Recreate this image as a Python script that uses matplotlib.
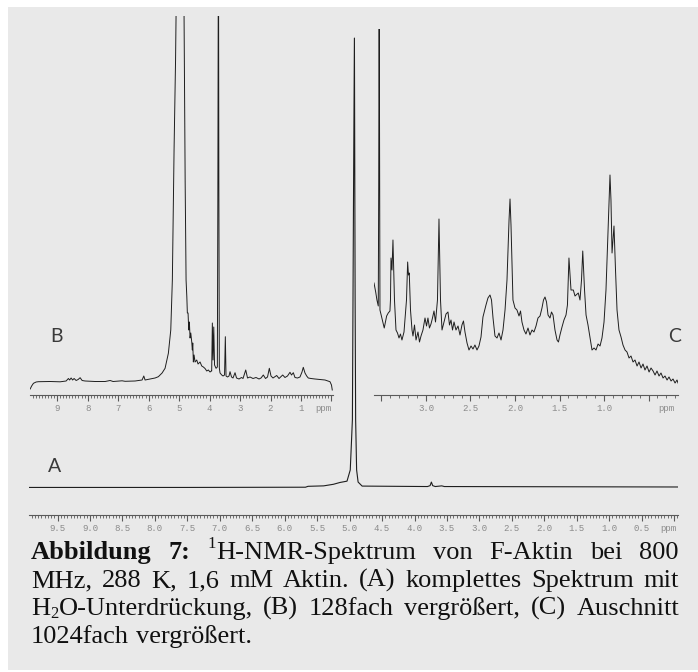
import re
import matplotlib
matplotlib.use("Agg")
import matplotlib.pyplot as plt
from matplotlib.patches import Rectangle
from matplotlib.ticker import FixedLocator, MultipleLocator

W, H = 698, 672

# --- A: full spectrum (intensity in % of the water signal) ---
a_ppm = [9.94, 7.5, 5.68, 5.64, 5.40, 5.25, 5.15, 5.04, 4.99, 4.97, 4.957, 4.94,
         4.926, 4.915, 4.907, 4.892, 4.869, 4.807, 3.80, 3.76, 3.74, 3.72, 3.68,
         3.58, 3.54, -0.06]
a_int = [-0.1, -0.1, -0.05, 0.15, 0.25, 0.6, 1.0, 1.3, 3.8, 10.5, 15, 64,
         100, 42, 15, 3.8, 1.1, 0.2, 0.1, 0.3, 1.1, 0.3, 0.1,
         0.25, 0.1, 0.0]

# --- B: 128x, whole range ---
b_ppm = [9.885, 9.836, 9.777, 9.689, 9.613, 9.230, 8.902, 8.705, 8.630, 8.590,
         8.541, 8.492, 8.443, 8.377, 8.311, 8.246, 8.180, 8.082, 7.754, 7.426,
         7.262, 7.164, 6.869, 6.770, 6.443, 6.213, 6.157, 6.115, 5.951, 5.787,
         5.679, 5.557, 5.459, 5.351, 5.272, 5.239, 5.220, 5.164, 5.115, 5.098,
         5.08, 4.97, 4.84, 4.836, 4.80, 4.77, 4.745, 4.728, 4.705, 4.682,
         4.662, 4.639, 4.616, 4.584, 4.564, 4.551, 4.531, 4.508, 4.475, 4.420,
         4.377, 4.311, 4.256, 4.203, 4.148, 4.092, 4.039, 3.984, 3.941, 3.930,
         3.908, 3.885, 3.862, 3.836, 3.787, 3.744, 3.728, 3.708, 3.695, 3.679,
         3.656, 3.600, 3.557, 3.508, 3.482, 3.459, 3.410, 3.361, 3.328, 3.279,
         3.230, 3.164, 3.115, 3.033, 2.951, 2.902, 2.813, 2.754, 2.672, 2.574,
         2.475, 2.377, 2.311, 2.236, 2.164, 2.098, 2.039, 1.984, 1.918, 1.797,
         1.721, 1.600, 1.525, 1.443, 1.361, 1.311, 1.252, 1.197, 1.115, 1.033,
         0.967, 0.925, 0.869, 0.813, 0.761, 0.672, 0.541, 0.377, 0.213, 0.049,
         0.000, -0.026]
b_int = [-7, -4, -1.3, 0, 0.3, 0.5, 0.2, 1, 3.5, 2,
         4, 2, 3.5, 1.5, 2.5, 4.3, 1.5, 1, 0.5, 0.5,
         1.5, 0.5, 1.2, 0.7, 1, 2, 6, 2, 3, 4,
         5.3, 9, 13.7, 28.7, 52, 85, 102, 232, 322, 366,
         420, 480, 420, 366, 200, 102, 85, 69, 69, 52,
         60, 44, 49, 40, 32, 39, 20, 27, 20, 22,
         18, 20, 16, 15, 13.5, 11, 12, 10, 11, 11,
         59, 22, 55, 17, 13.7, 15, 182, 480, 200, 14,
         9, 7, 6, 7, 45.3, 6, 5, 6, 10.3, 5,
         4, 9.3, 4, 3, 4.5, 3.5, 12, 4, 5, 3.5,
         4.5, 3, 4, 7, 3.5, 5, 13.7, 6, 4, 6.5,
         3.5, 7, 4.5, 6, 9.7, 7, 9.3, 4.5, 4, 5,
         10, 14.7, 9, 6, 4, 3.5, 3, 2.5, 2, 0.3,
         -3, -8]

# --- C: 1024x, aliphatic region ---
c_ppm = [3.584, 3.565, 3.551, 3.536, 3.531, 3.526, 3.521, 3.517, 3.498, 3.469,
         3.442, 3.424, 3.405, 3.399, 3.393, 3.382, 3.371, 3.354, 3.337, 3.320,
         3.303, 3.287, 3.270, 3.247, 3.219, 3.206, 3.197, 3.188, 3.174, 3.157,
         3.146, 3.129, 3.112, 3.090, 3.073, 3.056, 3.034, 3.011, 2.994, 2.978,
         2.961, 2.944, 2.927, 2.910, 2.893, 2.871, 2.854, 2.837, 2.820, 2.798,
         2.775, 2.753, 2.736, 2.719, 2.702, 2.685, 2.663, 2.640, 2.618, 2.596,
         2.579, 2.562, 2.539, 2.517, 2.494, 2.472, 2.450, 2.427, 2.405, 2.382,
         2.360, 2.326, 2.304, 2.281, 2.264, 2.247, 2.225, 2.202, 2.180, 2.157,
         2.135, 2.112, 2.090, 2.067, 2.056, 2.045, 2.023, 2.000, 1.978, 1.955,
         1.938, 1.922, 1.899, 1.877, 1.854, 1.832, 1.809, 1.787, 1.764, 1.742,
         1.719, 1.697, 1.680, 1.663, 1.646, 1.629, 1.607, 1.590, 1.573, 1.551,
         1.528, 1.512, 1.495, 1.472, 1.450, 1.427, 1.411, 1.394, 1.371, 1.345,
         1.326, 1.289, 1.270, 1.253, 1.239, 1.219, 1.202, 1.180, 1.157, 1.135,
         1.112, 1.090, 1.067, 1.045, 1.023, 1.000, 0.978, 0.955, 0.933, 0.922,
         0.910, 0.899, 0.888, 0.871, 0.854, 0.832, 0.809, 0.787, 0.764, 0.742,
         0.719, 0.697, 0.674, 0.652, 0.629, 0.607, 0.584, 0.562, 0.540, 0.517,
         0.494, 0.472, 0.449, 0.427, 0.405, 0.382, 0.360, 0.337, 0.315, 0.292,
         0.270, 0.247, 0.225, 0.202, 0.180, 0.169]
c_int = [102, 93, 85, 79, 200, 420, 200, 75, 68, 57,
         69, 72, 74, 85, 127, 115, 145, 85, 55, 52,
         47, 51, 45, 53, 85, 123, 110, 112, 75, 55,
         49, 60, 45, 53, 43, 49, 55, 67, 59, 67,
         57, 61, 67, 74, 63, 85, 166, 85, 55, 63,
         71, 73, 60, 65, 55, 63, 55, 59, 50, 60,
         64, 53, 42, 35, 39, 36, 40, 35, 39, 48,
         68, 80, 87, 90, 85, 67, 49, 47, 52, 45,
         55, 75, 105, 165, 186, 160, 85, 77, 75, 69,
         74, 63, 55, 51, 57, 50, 55, 53, 59, 67,
         69, 77, 85, 88, 83, 70, 67, 73, 70, 55,
         45, 43, 50, 58, 65, 70, 80, 127, 95, 95,
         89, 92, 85, 105, 134, 95, 70, 60, 47, 35,
         37, 35, 41, 39, 47, 63, 95, 155, 210, 185,
         132, 145, 159, 115, 75, 55, 48, 40, 35, 33,
         27, 29, 23, 25, 19, 23, 17, 21, 15, 19,
         13, 17, 14, 10, 14, 9, 12, 7, 9, 5,
         8, 4, 6, 2, 5, 2]

a_ticks = [9.5, 9.0, 8.5, 8.0, 7.5, 7.0, 6.5, 6.0, 5.5, 5.0,
           4.5, 4.0, 3.5, 3.0, 2.5, 2.0, 1.5, 1.0, 0.5, 0.0]
a_labels = ["9.5", "9.0", "8.5", "8.0", "7.5", "7.0", "6.5", "6.0", "5.5", "5.0",
            "4.5", "4.0", "3.5", "3.0", "2.5", "2.0", "1.5", "1.0", "0.5", ""]
b_ticks = [9, 8, 7, 6, 5, 4, 3, 2, 1, 0]
b_labels = ["9", "8", "7", "6", "5", "4", "3", "2", "1", ""]
c_ticks = [3.5, 3.0, 2.5, 2.0, 1.5, 1.0, 0.5]
c_labels = ["", "3.0", "2.5", "2.0", "1.5", "1.0", ""]

caption = [
    "Abbildung 7: ^1H-NMR-Spektrum von F-Aktin bei 800",
    "MHz, 288 K, 1,6 mM Aktin. (A) komplettes Spektrum mit",
    "H_2O-Unterdrückung, (B) 128fach vergrößert, (C) Auschnitt",
    "1024fach vergrößert.",
]

BG = "#e9e9e9"
LINE = "#1e1e1e"
AXIS = "#5a5a5a"
TICKTXT = "#8a8a8a"
MONO = "Liberation Mono"
SERIF = "Liberation Serif"

fig = plt.figure(figsize=(W / 100, H / 100), dpi=100)
fig.patch.set_facecolor("white")
fig.patches.append(Rectangle((8 / W, 1 - 670 / H), (W - 8) / W, (670 - 7) / H,
                             transform=fig.transFigure, facecolor=BG,
                             edgecolor="none", zorder=-10))


def px_box(x0, y0, x1, y1):
    return [x0 / W, 1 - y1 / H, (x1 - x0) / W, (y1 - y0) / H]


def spectrum_axes(box, xlim, ylim, ticks, labels, minor, ppm_x):
    ax = fig.add_axes(px_box(*box))
    ax.set_facecolor("none")
    for side in ("left", "right", "top"):
        ax.spines[side].set_visible(False)
    ax.spines["bottom"].set_color(AXIS)
    ax.spines["bottom"].set_linewidth(0.8)
    ax.set_xlim(*xlim)
    ax.set_ylim(*ylim)
    ax.set_yticks([])
    ax.xaxis.set_major_locator(FixedLocator(ticks))
    ax.set_xticklabels(labels)
    ax.xaxis.set_minor_locator(MultipleLocator(minor))
    ax.tick_params(axis="x", which="major", length=4, width=0.8, color=AXIS,
                   pad=2.5, labelsize=6.5, labelcolor=TICKTXT)
    ax.tick_params(axis="x", which="minor", length=2, width=0.6, color=AXIS)
    for lab in ax.get_xticklabels():
        lab.set_fontfamily(MONO)
    ax.annotate("ppm", xy=(ppm_x, 0), xycoords=("data", "axes fraction"),
                xytext=(0, -6.5), textcoords="offset points", ha="center",
                va="top", fontsize=6.5, color=TICKTXT, family=MONO)
    return ax


ax_a = spectrum_axes((29, 30, 678, 515), (9.94, -0.06), (-6.24, 101.8),
                     a_ticks, a_labels, 0.05, 0.09)
ax_a.plot(a_ppm, a_int, color=LINE, lw=0.8)

ax_b = spectrum_axes((30, 16, 333, 395), (9.89, -0.05), (-13, 366),
                     b_ticks, b_labels, 0.1, 0.27)
ax_b.plot(b_ppm, b_int, color=LINE, lw=0.7)

ax_c = spectrum_axes((374, 29, 678, 395), (3.584, 0.169), (-10, 356),
                     c_ticks, c_labels, 0.1, 0.295)
ax_c.plot(c_ppm, c_int, color=LINE, lw=0.7)

for letter, x, y in (("A", 55, 466), ("B", 56, 337), ("C", 675, 337)):
    fig.text(x / W, 1 - y / H, letter, ha="center", va="center", fontsize=14,
             color="#3a3a3a", family="Lato")

# justified caption, one text object per word fragment
renderer = fig.canvas.get_renderer()
cap_x0, cap_x1 = 31, 679
cap_base = [559, 587, 615, 643]
MAIN = 19
SMALL = 12


def fragments(word, bold):
    out = []
    for part in re.split(r"(\^\w|_\w)", word):
        if not part:
            continue
        if part[0] == "^":
            out.append((part[1:], dict(fontsize=SMALL, weight="normal"), -11))
        elif part[0] == "_":
            out.append((part[1:], dict(fontsize=SMALL, weight="normal"), 3))
        else:
            out.append((part, dict(fontsize=MAIN,
                                   weight="bold" if bold else "normal"), 0))
    return out


def text_width(s, props):
    t = fig.text(0, 0, s, family=SERIF, **props)
    w = t.get_window_extent(renderer).width
    t.remove()
    return w


space = text_width("a a", dict(fontsize=MAIN)) - text_width("aa", dict(fontsize=MAIN))

for i, line in enumerate(caption):
    words = line.split(" ")
    frags = [fragments(w, i == 0 and j < 2) for j, w in enumerate(words)]
    widths = [sum(text_width(s, p) for s, p, _ in fr) for fr in frags]
    last = i == len(caption) - 1
    gap = space if last else (cap_x1 - cap_x0 - sum(widths)) / (len(words) - 1)
    x = cap_x0
    for fr, wd in zip(frags, widths):
        xx = x
        for s, p, dy in fr:
            fig.text(xx / W, 1 - (cap_base[i] + dy) / H, s, family=SERIF,
                     ha="left", va="baseline", color="#111111", **p)
            xx += text_width(s, p)
        x += wd + gap

fig.savefig("out.png", dpi=100, facecolor=fig.get_facecolor())
